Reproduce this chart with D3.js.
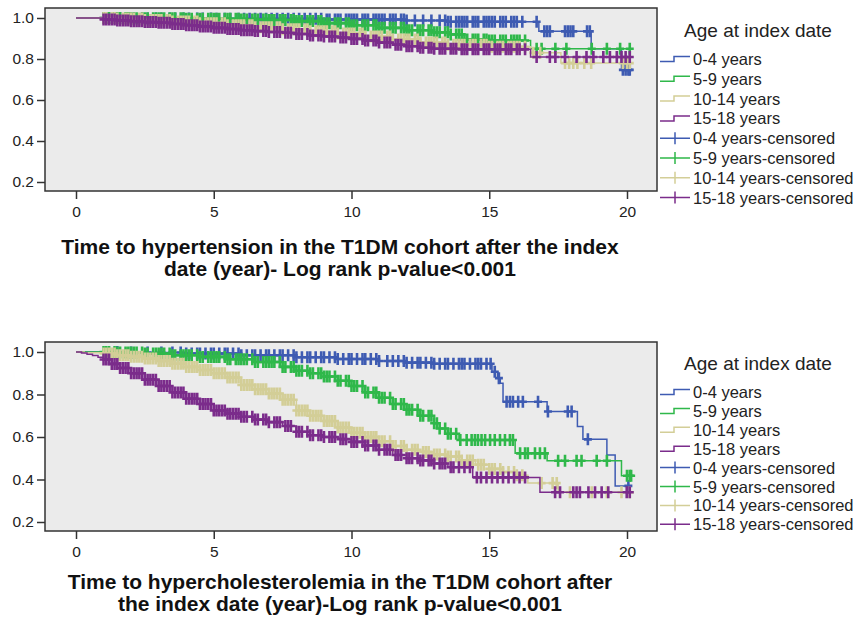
<!DOCTYPE html>
<html>
<head>
<meta charset="utf-8">
<script src="https://cdn.jsdelivr.net/npm/d3@7"></script>
<style>
  body { margin: 0; background: #fff; }
  svg { display: block; font-family: "Liberation Sans", Arial, sans-serif; }
</style>
</head>
<body>
<svg id="chart" width="860" height="621"></svg>
<script>
// age groups and axis ticks
const groups = ["0-4 years", "5-9 years", "10-14 years", "15-18 years"];
const xTicks = [0, 5, 10, 15, 20];
const yTicks = [0.2, 0.4, 0.6, 0.8, 1.0];
const followUpEnd = 20.15;

// Kaplan-Meier steps [time, survival], hypertension
const htn0_4 = [[0, 1], [2, 0.998], [5, 0.996], [9, 0.993], [12, 0.988], [13.5, 0.982], [16.8, 0.935], [18.7, 0.85], [19.8, 0.747]];
const htn5_9 = [[0, 1], [2, 0.999], [4, 0.996], [6, 0.993], [7, 0.99], [8, 0.985], [9, 0.975], [10, 0.965], [11, 0.952],
  [12, 0.94], [13, 0.93], [13.6, 0.92], [14.1, 0.895], [15, 0.89], [16.5, 0.85]];
const htn10_14 = [[0, 1], [1.5, 0.997], [2.5, 0.99], [3.5, 0.983], [4.5, 0.975], [5.5, 0.965], [6.5, 0.955], [7.5, 0.945],
  [8.5, 0.935], [9.5, 0.925], [10.5, 0.91], [11.5, 0.895], [12.5, 0.88], [13.5, 0.87], [15, 0.86], [16.5, 0.83], [17.6, 0.78]];
const htn15_18 = [[0, 1], [1, 0.993], [1.5, 0.988], [2, 0.984], [2.5, 0.98], [3, 0.977], [3.5, 0.971], [4, 0.965], [4.5, 0.958],
  [5, 0.952], [5.5, 0.946], [6, 0.94], [6.5, 0.936], [7, 0.932], [7.5, 0.928], [8, 0.922], [8.5, 0.915], [9, 0.91], [9.5, 0.905],
  [10, 0.898], [10.5, 0.89], [11, 0.88], [11.5, 0.87], [12, 0.862], [12.5, 0.855], [13, 0.85], [14, 0.847], [16.5, 0.81]];

// censored times, hypertension
const htnCens0_4 = [1.0, 1.2, 1.4, 1.6, 1.9, 2.1, 2.4, 2.6, 2.9, 3.1, 3.4, 3.6, 3.9, 4.1, 4.4, 4.6, 4.9, 5.1, 5.4, 5.6, 5.9,
  6.1, 6.3, 6.5, 6.7, 6.9, 7.1, 7.3, 7.5, 7.7, 7.9, 8.1, 8.3, 8.5, 8.7, 8.9, 9.1, 9.2, 9.4, 9.5, 9.6, 9.8, 9.9, 10.0, 10.1,
  10.2, 10.4, 10.5, 10.6, 10.8, 10.9, 11.0, 11.1, 11.2, 11.4, 11.5, 11.6, 11.8, 11.9, 12.0, 12.3, 12.6, 12.9, 13.2, 13.4,
  13.5, 13.6, 13.8, 13.9, 14.0, 14.1, 14.2, 14.4, 14.5, 14.6, 14.8, 14.9, 15.0, 15.1, 15.2, 15.4, 15.5, 15.6, 15.8, 15.9,
  16.0, 16.2, 16.72, 17.0, 17.1, 17.2, 17.75, 17.85, 17.95, 18.05, 18.55, 18.65, 19.85, 19.95, 20.05, 20.1];
const htnCens5_9 = [1.0, 1.1, 1.2, 1.4, 1.5, 1.6, 1.8, 1.9, 2.0, 2.1, 2.2, 2.4, 2.5, 2.6, 2.8, 2.9, 3.0, 3.1, 3.2, 3.4, 3.5,
  3.6, 3.8, 3.9, 4.0, 4.1, 4.2, 4.4, 4.5, 4.6, 4.8, 4.9, 5.0, 5.1, 5.2, 5.4, 5.5, 5.6, 5.8, 5.9, 6.0, 6.1, 6.2, 6.4, 6.5, 6.6,
  6.8, 6.9, 7.0, 7.1, 7.2, 7.4, 7.5, 7.6, 7.8, 7.9, 8.0, 8.1, 8.2, 8.4, 8.5, 8.6, 8.8, 8.9, 9.0, 9.1, 9.2, 9.4, 9.5, 9.6, 9.8,
  9.9, 10.0, 10.1, 10.2, 10.4, 10.5, 10.6, 10.8, 10.9, 11.0, 11.1, 11.2, 11.4, 11.5, 11.6, 11.8, 11.9, 12.0, 12.1, 12.2, 12.4,
  12.5, 12.6, 12.8, 12.9, 13.0, 13.1, 13.2, 13.4, 13.5, 13.6, 13.8, 13.9, 14.0, 14.1, 14.2, 14.4, 14.5, 14.6, 14.8, 14.9,
  15.0, 15.1, 15.2, 15.4, 15.5, 15.6, 15.8, 15.9, 16.0, 16.1, 16.3, 16.72, 16.9, 17.4, 17.8, 18.72, 19.27, 19.75, 20.1];
const htnCens10_14 = [1.0, 1.1, 1.3, 1.4, 1.5, 1.7, 1.8, 1.9, 2.0, 2.1, 2.3, 2.4, 2.5, 2.7, 2.8, 2.9, 3.0, 3.1, 3.3, 3.4,
  3.5, 3.7, 3.8, 3.9, 4.0, 4.1, 4.3, 4.4, 4.5, 4.7, 4.8, 4.9, 5.0, 5.1, 5.3, 5.4, 5.5, 5.7, 5.8, 5.9, 6.0, 6.1, 6.3, 6.4, 6.5,
  6.7, 6.8, 6.9, 7.0, 7.1, 7.3, 7.4, 7.5, 7.7, 7.8, 7.9, 8.0, 8.1, 8.3, 8.4, 8.5, 8.7, 8.8, 8.9, 9.0, 9.1, 9.3, 9.4, 9.5, 9.7,
  9.8, 9.9, 10.0, 10.1, 10.3, 10.4, 10.5, 10.7, 10.8, 10.9, 11.0, 11.1, 11.3, 11.4, 11.5, 11.7, 11.8, 11.9, 12.0, 12.1, 12.3,
  12.4, 12.5, 12.7, 12.8, 12.9, 13.0, 13.1, 13.3, 13.4, 13.5, 13.7, 13.8, 13.9, 14.0, 14.1, 14.3, 14.4, 14.5, 14.7, 14.8,
  14.9, 15.0, 15.1, 15.3, 15.4, 15.5, 15.7, 15.8, 15.9, 16.0, 16.1, 16.3, 16.6, 16.85, 17.75, 17.9, 18.05, 18.2, 18.45, 18.7,
  19.85, 20.0, 20.1];
const htnCens15_18 = [1.0, 1.1, 1.2, 1.3, 1.4, 1.5, 1.6, 1.7, 1.8, 1.9, 2.0, 2.1, 2.2, 2.3, 2.4, 2.5, 2.6, 2.7, 2.8, 2.9, 3.0,
  3.1, 3.2, 3.3, 3.4, 3.5, 3.6, 3.7, 3.8, 3.9, 4.0, 4.1, 4.2, 4.3, 4.4, 4.5, 4.6, 4.7, 4.8, 4.9, 5.0, 5.1, 5.2, 5.3, 5.4, 5.5,
  5.6, 5.7, 5.8, 5.9, 6.0, 6.1, 6.2, 6.3, 6.4, 6.5, 6.6, 6.8, 6.9, 7.0, 7.2, 7.3, 7.4, 7.6, 7.7, 7.8, 8.0, 8.1, 8.2, 8.4, 8.5,
  8.6, 8.8, 8.9, 9.0, 9.2, 9.3, 9.4, 9.6, 9.7, 9.8, 10.0, 10.1, 10.2, 10.4, 10.5, 10.6, 10.8, 10.9, 11.0, 11.2, 11.3, 11.4,
  11.6, 11.7, 11.8, 12.0, 12.1, 12.2, 12.4, 12.5, 12.6, 12.8, 12.9, 13.0, 13.2, 13.3, 13.4, 13.6, 13.7, 13.8, 14.0, 14.1,
  14.2, 14.4, 14.5, 14.6, 14.8, 14.9, 15.0, 15.2, 15.3, 15.4, 15.6, 15.7, 15.8, 16.0, 16.1, 16.3, 16.72, 17.2, 17.4, 17.75,
  18.17, 18.53, 18.78, 19.14, 19.38, 19.63, 19.8, 19.95, 20.1];

// Kaplan-Meier steps [time, survival], hypercholesterolemia
const chol0_4 = [[0, 1], [2, 0.998], [4, 0.993], [6, 0.985], [8, 0.975], [9.5, 0.967], [11, 0.958], [12, 0.95], [13, 0.945],
  [15.1, 0.907], [15.3, 0.877], [15.4, 0.853], [15.5, 0.766], [17.1, 0.72], [18.2, 0.65], [18.4, 0.589], [19.27, 0.515],
  [19.57, 0.37]];
const chol5_9 = [[0, 1], [1.5, 0.998], [2.5, 0.993], [3.5, 0.985], [4.5, 0.977], [5.5, 0.966], [6.5, 0.953], [7.5, 0.93],
  [8, 0.912], [8.5, 0.9], [9, 0.885], [9.5, 0.865], [10, 0.84], [10.5, 0.81], [11, 0.785], [11.5, 0.755], [12, 0.728],
  [12.5, 0.7], [13, 0.665], [13.2, 0.64], [13.5, 0.615], [13.9, 0.586], [15.94, 0.523], [17.1, 0.488], [19.8, 0.418]];
const chol10_14 = [[0, 1], [0.3, 0.997], [1, 0.993], [1.5, 0.985], [2, 0.978], [2.5, 0.97], [3, 0.958], [3.5, 0.945],
  [4, 0.93], [4.5, 0.915], [5, 0.9], [5.5, 0.88], [6, 0.845], [6.5, 0.825], [7, 0.805], [7.5, 0.775], [8, 0.725], [8.5, 0.7],
  [9, 0.675], [9.5, 0.645], [10, 0.62], [10.5, 0.6], [11, 0.58], [11.5, 0.558], [12, 0.54], [12.5, 0.53], [13, 0.518],
  [13.5, 0.508], [14, 0.49], [14.5, 0.47], [15, 0.45], [15.5, 0.435], [16, 0.42], [16.4, 0.383], [17.5, 0.34]];
const chol15_18 = [[0, 1], [0.2, 0.995], [0.4, 0.99], [0.6, 0.983], [0.8, 0.975], [1, 0.965], [1.3, 0.944], [1.6, 0.925],
  [2, 0.9], [2.5, 0.87], [3, 0.84], [3.5, 0.81], [4, 0.78], [4.5, 0.755], [5, 0.725], [5.5, 0.71], [6, 0.695], [6.5, 0.682],
  [7, 0.67], [7.5, 0.652], [8, 0.625], [8.5, 0.608], [9, 0.6], [9.5, 0.59], [10, 0.577], [10.5, 0.56], [11, 0.54],
  [11.5, 0.515], [12, 0.5], [12.5, 0.49], [13, 0.475], [13.5, 0.458], [14.4, 0.41], [16.84, 0.34]];

// censored times, hypercholesterolemia
const cholCens0_4 = [1.5, 2.0, 2.6, 3.1, 3.5, 3.8, 4.0, 4.2, 4.4, 4.5, 4.7, 4.9, 5.0, 5.2, 5.4, 5.5, 5.7, 5.9, 6.0, 6.2, 6.4,
  6.5, 6.7, 6.9, 7.0, 7.2, 7.4, 7.5, 7.7, 7.9, 8.0, 8.2, 8.4, 8.5, 8.7, 8.9, 9.0, 9.2, 9.4, 9.5, 9.7, 9.9, 10.0, 10.2, 10.4,
  10.5, 10.7, 10.9, 11.0, 11.3, 11.5, 11.7, 11.9, 12.0, 12.2, 12.4, 12.5, 12.7, 12.9, 13.0, 13.2, 13.4, 13.5, 13.7, 13.9,
  14.0, 14.1, 14.3, 14.5, 14.6, 14.7, 14.9, 15.05, 15.2, 15.35, 15.63, 15.75, 15.86, 16.05, 16.22, 16.77, 17.13, 17.85,
  17.99, 18.58, 20.05];
const cholCens5_9 = [1.0, 1.1, 1.2, 1.4, 1.5, 1.6, 1.8, 1.9, 2.0, 2.1, 2.2, 2.4, 2.5, 2.6, 2.8, 2.9, 3.0, 3.1, 3.2, 3.4, 3.5,
  3.6, 3.8, 3.9, 4.0, 4.1, 4.2, 4.4, 4.5, 4.6, 4.8, 4.9, 5.0, 5.1, 5.2, 5.4, 5.5, 5.6, 5.8, 5.9, 6.0, 6.1, 6.2, 6.4, 6.5, 6.6,
  6.8, 6.9, 7.0, 7.1, 7.2, 7.4, 7.5, 7.6, 7.8, 7.9, 8.0, 8.1, 8.2, 8.4, 8.5, 8.6, 8.8, 8.9, 9.0, 9.1, 9.2, 9.4, 9.5, 9.6, 9.8,
  9.9, 10.0, 10.1, 10.2, 10.4, 10.5, 10.6, 10.8, 10.9, 11.0, 11.1, 11.2, 11.4, 11.5, 11.6, 11.8, 11.9, 12.0, 12.1, 12.2, 12.4,
  12.5, 12.6, 12.8, 12.9, 13.0, 13.1, 13.2, 13.4, 13.5, 13.6, 13.8, 13.95, 14.18, 14.36, 14.48, 14.59, 14.72, 14.85, 15.03,
  15.2, 15.39, 15.57, 15.75, 15.86, 16.12, 16.3, 16.4, 16.66, 16.84, 17.02, 17.5, 17.75, 18.17, 18.35, 18.9, 19.27, 20.0,
  20.1, 20.15];
const cholCens10_14 = [1.0, 1.1, 1.2, 1.3, 1.4, 1.5, 1.6, 1.7, 1.8, 1.9, 2.0, 2.1, 2.2, 2.3, 2.4, 2.5, 2.6, 2.7, 2.8, 2.9,
  3.0, 3.1, 3.2, 3.3, 3.4, 3.5, 3.6, 3.7, 3.8, 3.9, 4.0, 4.1, 4.2, 4.3, 4.4, 4.5, 4.6, 4.7, 4.8, 4.9, 5.0, 5.1, 5.2, 5.3, 5.4,
  5.5, 5.6, 5.7, 5.8, 5.9, 6.0, 6.1, 6.2, 6.3, 6.4, 6.5, 6.6, 6.7, 6.8, 6.9, 7.0, 7.1, 7.2, 7.3, 7.4, 7.5, 7.6, 7.7, 7.8, 7.9,
  8.0, 8.1, 8.2, 8.3, 8.4, 8.5, 8.6, 8.7, 8.8, 8.9, 9.0, 9.1, 9.2, 9.3, 9.4, 9.5, 9.6, 9.7, 9.8, 9.9, 10.0, 10.1, 10.2, 10.3,
  10.4, 10.5, 10.6, 10.7, 10.8, 10.9, 11.0, 11.1, 11.2, 11.4, 11.5, 11.6, 11.8, 11.9, 12.0, 12.2, 12.3, 12.4, 12.6, 12.7,
  12.8, 13.0, 13.1, 13.2, 13.4, 13.5, 13.6, 13.8, 13.9, 14.0, 14.2, 14.3, 14.4, 14.6, 14.7, 14.8, 15.0, 15.1, 15.2, 15.4,
  15.5, 15.7, 15.9, 16.0, 16.2, 16.9, 17.3, 17.45, 17.93, 18.72, 19.27, 19.8, 20.1];
const cholCens15_18 = [1.0, 1.1, 1.2, 1.3, 1.4, 1.5, 1.6, 1.7, 1.8, 1.9, 2.0, 2.1, 2.2, 2.3, 2.4, 2.5, 2.6, 2.7, 2.8, 2.9,
  3.0, 3.1, 3.2, 3.3, 3.4, 3.5, 3.6, 3.7, 3.8, 3.9, 4.0, 4.1, 4.2, 4.3, 4.4, 4.5, 4.6, 4.7, 4.8, 4.9, 5.0, 5.1, 5.2, 5.3, 5.4,
  5.5, 5.6, 5.7, 5.8, 5.9, 6.0, 6.1, 6.2, 6.4, 6.5, 6.6, 6.8, 6.9, 7.0, 7.2, 7.3, 7.4, 7.6, 7.7, 7.8, 8.0, 8.1, 8.2, 8.4, 8.5,
  8.6, 8.8, 8.9, 9.0, 9.2, 9.3, 9.4, 9.6, 9.7, 9.8, 10.0, 10.1, 10.2, 10.4, 10.5, 10.6, 10.8, 10.9, 11.0, 11.2, 11.3, 11.4,
  11.6, 11.7, 11.8, 12.0, 12.1, 12.2, 12.4, 12.5, 12.6, 12.8, 12.9, 13.0, 13.2, 13.3, 13.4, 13.6, 13.7, 13.9, 14.1, 14.3,
  14.55, 14.7, 14.9, 15.1, 15.3, 15.5, 15.7, 15.9, 16.1, 16.3, 17.39, 17.57, 18.05, 18.17, 18.29, 18.6, 18.84, 19.08,
  19.32, 19.99, 20.1];

const colors = ["#3e5bb2", "#2fb84a", "#d3ce97", "#7b2c8b"];

let svg = d3.select("#chart");

// shared time scale
let x = d3.scaleLinear().domain([0, 20]).range([76, 627]);

function survAt(curve, t) {
    let s = 1;
    curve.forEach(function (p) {
        if (p[0] <= t) s = p[1];
    });
    return s;
}

let stepLine = d3.line()
    .x(function (d) { return x(d[0]); })
    .curve(d3.curveStepAfter);

function drawPanel(p) {
    let g = svg.append("g");
    let y = d3.scaleLinear().domain([0.2, 1.0]).range([p.y02, p.y10]);
    stepLine.y(function (d) { return y(d[1]); });

    g.append("rect")
        .attr("x", 45).attr("y", p.top)
        .attr("width", 612).attr("height", p.bottom - p.top)
        .attr("fill", "#ebebeb");

    // curves with their censor marks, drawn in legend order
    p.curves.forEach(function (c, i) {
        let pts = c.concat([[followUpEnd, c[c.length - 1][1]]]);
        g.append("path")
            .datum(pts)
            .attr("d", stepLine)
            .attr("fill", "none")
            .attr("stroke", colors[i])
            .attr("stroke-width", 1.5);

        g.append("g").selectAll("path")
            .data(p.censored[i])
            .enter()
            .append("path")
            .attr("d", function (t) {
                let cx = x(t), cy = y(survAt(c, t));
                return "M" + (cx - 4) + "," + cy + "H" + (cx + 4) + "M" + cx + "," + (cy - 6) + "V" + (cy + 6);
            })
            .attr("fill", "none")
            .attr("stroke", colors[i])
            .attr("stroke-width", 2.6);
    });

    g.append("rect")
        .attr("x", 45).attr("y", p.top)
        .attr("width", 612).attr("height", p.bottom - p.top)
        .attr("fill", "none")
        .attr("stroke", "#333")
        .attr("stroke-width", 1.5);

    let yAxis = d3.axisLeft(y).tickValues(yTicks).tickFormat(d3.format(".1f")).tickSize(8).tickPadding(3);
    let xAxis = d3.axisBottom(x).tickValues(xTicks).tickSize(8).tickPadding(7);

    let ya = g.append("g").attr("transform", "translate(45,0)").call(yAxis);
    let xa = g.append("g").attr("transform", "translate(0," + p.bottom + ")").call(xAxis);
    [ya, xa].forEach(function (a) {
        a.select(".domain").remove();
        a.selectAll(".tick line").attr("stroke", "#333").attr("stroke-width", 1.5);
        a.selectAll(".tick text").attr("fill", "#222").style("font-size", "15.5px").style("font-family", "Liberation Sans, Arial, sans-serif");
    });

    // title below the panel
    let title = g.append("text")
        .attr("x", 340).attr("y", p.titleY)
        .attr("text-anchor", "middle")
        .style("font-size", "21px")
        .style("font-weight", "bold")
        .attr("fill", "#111");
    p.titleLines.forEach(function (line, k) {
        title.append("tspan").attr("x", 340).attr("dy", k === 0 ? 0 : 22).text(line);
    });

    // legend
    let lg = g.append("g");
    lg.append("text")
        .attr("x", 758).attr("y", p.legendTop)
        .attr("text-anchor", "middle")
        .style("font-size", "19px")
        .attr("fill", "#222")
        .text("Age at index date");

    let items = groups.map(function (n, i) { return { name: n, i: i, cens: false }; })
        .concat(groups.map(function (n, i) { return { name: n + "-censored", i: i, cens: true }; }));

    let row = lg.selectAll("g.item")
        .data(items)
        .enter()
        .append("g")
        .attr("class", "item")
        .attr("transform", function (d, k) { return "translate(0," + (p.legendFirst + k * p.legendStep) + ")"; });

    row.append("path")
        .attr("d", function (d) {
            return d.cens ? "M660,0H690M675,-6V6" : "M660,2.5H674V-2.5H690";
        })
        .attr("fill", "none")
        .attr("stroke", function (d) { return colors[d.i]; })
        .attr("stroke-width", 1.5);

    row.append("text")
        .attr("x", 693).attr("y", 6)
        .style("font-size", "16.5px")
        .attr("fill", "#222")
        .text(function (d) { return d.name; });
}

drawPanel({
    top: 8, bottom: 191, y02: 182, y10: 18,
    curves: [htn0_4, htn5_9, htn10_14, htn15_18],
    censored: [htnCens0_4, htnCens5_9, htnCens10_14, htnCens15_18],
    titleY: 254,
    titleLines: ["Time to hypertension in the T1DM cohort after the index", "date (year)- Log rank p-value<0.001"],
    legendTop: 37, legendFirst: 59, legendStep: 19.8
});

drawPanel({
    top: 342, bottom: 531, y02: 522, y10: 352,
    curves: [chol0_4, chol5_9, chol10_14, chol15_18],
    censored: [cholCens0_4, cholCens5_9, cholCens10_14, cholCens15_18],
    titleY: 589,
    titleLines: ["Time to hypercholesterolemia in the T1DM cohort after", "the index date (year)-Log rank p-value<0.001"],
    legendTop: 370, legendFirst: 392, legendStep: 18.9
});
</script>
</body>
</html>
